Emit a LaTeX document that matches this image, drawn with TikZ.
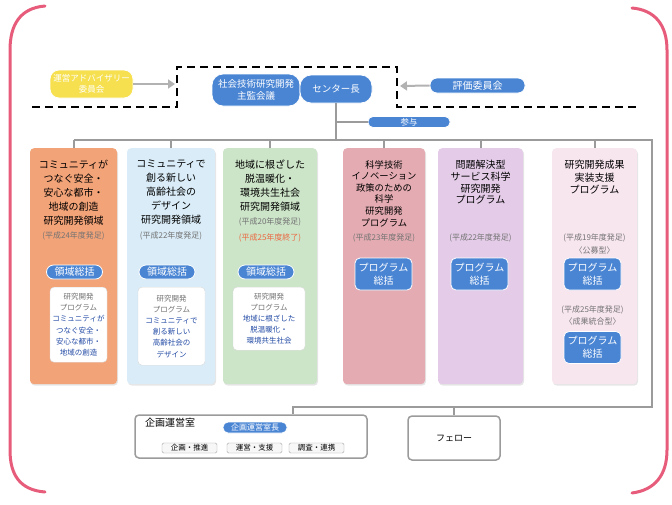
\documentclass[tikz,border=0pt]{standalone}
\usepackage{fontspec}
\setmainfont{Noto Sans CJK JP}
\usepackage{xcolor}
\usepackage{tikz}
\usetikzlibrary{positioning, calc, arrows.meta, shadows}
\definecolor{pillblue}{RGB}{74,133,212}
\definecolor{advyellow}{RGB}{246,224,80}
\definecolor{framepink}{RGB}{230,92,122}
\definecolor{conngray}{RGB}{155,155,155}
\definecolor{dategray}{RGB}{115,115,115}
\definecolor{endorange}{RGB}{235,105,65}
\definecolor{textblue}{RGB}{35,75,165}
\definecolor{colA}{RGB}{243,163,120}
\definecolor{colB}{RGB}{217,236,247}
\definecolor{colC}{RGB}{204,228,200}
\definecolor{colD}{RGB}{228,172,178}
\definecolor{colE}{RGB}{228,204,232}
\definecolor{colF}{RGB}{248,230,239}
\newcommand{\jpsize}[2]{\fontsize{#1}{#2}\selectfont}
\newcommand{\gr}{\color{dategray}}
\newcommand{\bl}{\color{textblue}}

\begin{document}
\begin{tikzpicture}[x=1pt, y=-1pt, every node/.style={inner sep=0pt},
	pill/.style={rectangle, rounded corners=#1, fill=pillblue, draw=white, line width=0.8pt, text=white, align=center},
	pill/.default=6pt,
	colbox/.style={rectangle, rounded corners=4pt, minimum width=#1, minimum height=236pt, anchor=north,
		drop shadow={opacity=0.2, shadow xshift=1pt, shadow yshift=-1.5pt}},
	coltitle/.style={align=center, anchor=north, font=\jpsize{10}{14}},
	datetext/.style={font=\jpsize{8}{10}, text=dategray},
	progbox/.style={rectangle, rounded corners=5pt, fill=pillblue, draw=white, line width=0.8pt, text=white, align=center,
		minimum width=57pt, minimum height=32pt, font=\jpsize{10}{13}},
	wbox/.style={rectangle, rounded corners=4pt, fill=white, draw=black!15, align=center, anchor=north, font=\jpsize{7.5}{11.2}},
	smallbox/.style={rectangle, rounded corners=1.5pt, draw=black!35, fill=black!3, minimum width=55pt, minimum height=10pt, font=\jpsize{7.5}{9}},
	conn/.style={draw=conngray, line width=2pt},
	tip/.style={draw=black!30, line width=2pt, -{Triangle[length=7pt,width=9pt]}},
	dashline/.style={line width=2.5pt, dash pattern=on 8pt off 5pt},
	frame/.style={draw=framepink, line width=3pt, line cap=round}]
	\useasboundingbox (0,0) rectangle (672,504);
	%% pink corner frame
	\draw[frame] (45,6) .. controls (20,8) and (10,25) .. (10,50) -- (10,450) .. controls (10,475) and (20,490) .. (45,492);
	\draw[frame] (632,8) .. controls (655,10) and (667,25) .. (667,50) -- (667,450) .. controls (667,475) and (655,490) .. (632,493);
	
	%% top row
	\draw[dashline] (32,107) -- (177,107) -- (177,67) -- (397,67) -- (397,107) -- (638,107);
	\node[pill=9pt, fill=advyellow, minimum width=83pt, minimum height=28pt, font=\jpsize{8.5}{11}] (adv) at (91.5,84) {運営アドバイザリー\\委員会};
	\node[pill=11pt, minimum width=88pt, minimum height=32pt, font=\jpsize{9.5}{12}] (council) at (256,90) {社会技術研究開発\\主監会議};
	\node[pill=11pt, minimum width=72pt, minimum height=28pt, font=\jpsize{9.5}{12}] (chief) at (336,89) {センター長};
	\node[pill=7pt, minimum width=95pt, minimum height=15pt, font=\jpsize{10}{11}] (eval) at (477.5,85.5) {評価委員会};
	\node[pill=5pt, minimum width=82pt, minimum height=11pt, font=\jpsize{8.5}{10}] (sanyo) at (409,122) {参与};
	\coordinate (dashL) at (175,84);
	\coordinate (dashR) at (400,86);
	\draw[tip] (adv.east) -- (dashL);
	\draw[tip] (eval.west) -- (dashR);
	
	%% columns
	\node[colbox=87pt, fill=colA] (c1) at (73.5,148) {};
	\node[colbox=88pt, fill=colB] (c2) at (171,148) {};
	\node[colbox=94pt, fill=colC] (c3) at (270,148) {};
	\node[colbox=82pt, fill=colD] (c4) at (384,148) {};
	\node[colbox=85pt, fill=colE] (c5) at (480.5,148) {};
	\node[colbox=85pt, fill=colF] (c6) at (594.5,148) {};
	
	%% column texts
	\node[coltitle] (t1) at ($(c1.north)+(0,12)$) {コミュニティが\\つなぐ安全・\\安心な都市・\\地域の創造\\研究開発領域};
	\node[datetext] (d1) at (73.5,236) {(平成24年度発足)};
	\node[coltitle] (t2) at ($(c2.north)+(0,12)$) {コミュニティで\\創る新しい\\高齢社会の\\デザイン\\研究開発領域};
	\node[datetext] (d2) at (171,236) {(平成22年度発足)};
	\node[coltitle] (t3) at ($(c3.north)+(0,12)$) {地域に根ざした\\脱温暖化・\\環境共生社会\\研究開発領域};
	\node[datetext] (d3) at (270,222) {(平成20年度発足)};
	\node[datetext, text=endorange] (e3) at (270,238) {(平成25年度終了)};
	\node[coltitle, font=\jpsize{9.3}{11.6}] (t4) at ($(c4.north)+(0,12)$) {科学技術\\イノベーション\\政策のための\\科学\\研究開発\\プログラム};
	\node[datetext] (d4) at (384,238) {(平成23年度発足)};
	\node[coltitle, font=\jpsize{10}{11.7}] (t5) at ($(c5.north)+(0,12)$) {問題解決型\\サービス科学\\研究開発\\プログラム};
	\node[datetext] (d5) at (480.5,238) {(平成22年度発足)};
	\node[coltitle, font=\jpsize{10}{12.5}] (t6) at ($(c6.north)+(0,12)$) {研究開発成果\\実装支援\\プログラム};
	\node[datetext] (d6) at (594.5,238) {(平成19年度発足)};
	\node[datetext] (k6) at (594.5,250) {〈公募型〉};
	
	%% leaders of the research areas
	\node[pill=7pt, minimum width=56pt, minimum height=14pt, font=\jpsize{10}{11}] (lead1) at (74.5,272) {領域総括};
	\node[pill=7pt, minimum width=56pt, minimum height=14pt, font=\jpsize{10}{11}] (lead2) at (167,272) {領域総括};
	\node[pill=7pt, minimum width=56pt, minimum height=14pt, font=\jpsize{10}{11}] (lead3) at (266,272) {領域総括};
	\node[wbox, minimum width=57pt, minimum height=75pt] (w1) at (78.5,287) {\gr 研究開発\\\gr プログラム\\\bl コミュニティが\\\bl つなぐ安全・\\\bl 安心な都市・\\\bl 地域の創造};
	\node[wbox, minimum width=67pt, minimum height=78pt] (w2) at (171.5,287) {\gr 研究開発\\\gr プログラム\\\bl コミュニティで\\\bl 創る新しい\\\bl 高齢社会の\\\bl デザイン};
	\node[wbox, minimum width=72pt, minimum height=63pt] (w3) at (269,287) {\gr 研究開発\\\gr プログラム\\\bl 地域に根ざした\\\bl 脱温暖化・\\\bl 環境共生社会};
	
	%% program supervisors
	\node[progbox] (pb4) at (383.5,274) {プログラム\\総括};
	\node[progbox] (pb5) at (479.5,274) {プログラム\\総括};
	\node[progbox] (pb6) at (592.5,274) {プログラム\\総括};
	\node[datetext] (d6b) at (592.5,310) {(平成25年度発足)};
	\node[datetext] (k6b) at (592.5,321) {〈成果統合型〉};
	\node[progbox] (pb6b) at (592.5,347.5) {プログラム\\総括};
	
	%% bottom row
	\node[rectangle, draw=conngray, line width=1.5pt, rounded corners=4pt, fill=white, minimum width=232pt, minimum height=43pt] (plan) at (251,436.5) {};
	\node[anchor=west, font=\jpsize{10}{12}] (planlbl) at (145,423) {企画運営室};
	\node[pill=5pt, minimum width=64pt, minimum height=11pt, font=\jpsize{8}{9}] (planhead) at (255,427.5) {企画運営室長};
	\node[smallbox] (sb1) at (189.5,448) {企画・推進};
	\node[smallbox] (sb2) at (254.5,448) {運営・支援};
	\node[smallbox] (sb3) at (316.5,448) {調査・連携};
	\node[rectangle, draw=conngray, line width=1.5pt, rounded corners=4pt, fill=white, minimum width=92pt, minimum height=44pt, font=\jpsize{9}{10}] (fellow) at (454,438) {フェロー};
	
	%% connectors
	\coordinate (barR) at (652,140);
	\coordinate (lowR) at (652,407);
	\draw[conn] (c1.north |- barR) -- (barR) -- (lowR) -| ([xshift=42pt]plan.north);
	\foreach \c in {c1,c2,c3,c4,c5,c6}
		\draw[conn] (\c.north) -- (\c.north |- barR);
	\draw[conn] (chief.south) -- (chief.south |- barR);
	\draw[conn] (sanyo.west) -- (sanyo.west -| chief.south);
	\draw[conn] (fellow.north) -- (fellow.north |- lowR);
\end{tikzpicture}
\end{document}
